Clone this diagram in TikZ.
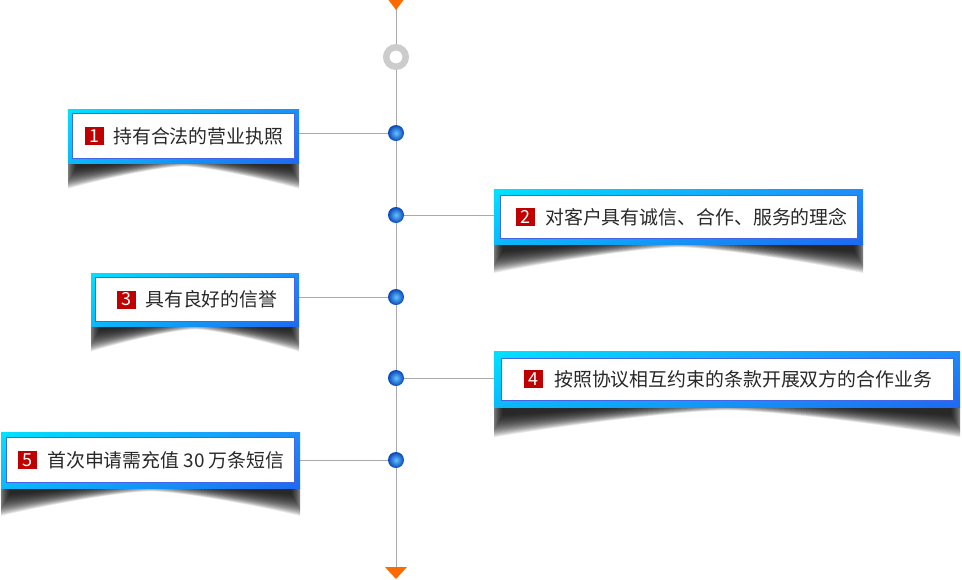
\documentclass[tikz,border=0pt]{standalone}
\usepackage{fontspec}
\setmainfont{Noto Sans CJK SC}
\usetikzlibrary{backgrounds,shadings}
\definecolor{linegray}{RGB}{170,170,170}
\definecolor{ringgray}{RGB}{204,204,204}
\definecolor{arrorange}{RGB}{255,106,0}
\definecolor{badgered}{RGB}{192,0,0}
\definecolor{txtgray}{RGB}{40,40,40}
\definecolor{bUL}{RGB}{0,226,255}
\definecolor{bUR}{RGB}{30,140,250}
\definecolor{bLL}{RGB}{10,185,250}
\definecolor{bLR}{RGB}{30,105,240}
\definecolor{innerblue}{RGB}{70,100,230}
\definecolor{dotin}{RGB}{100,195,255}
\definecolor{dotout}{RGB}{8,70,185}
% soft shadow: x0 x1 yb sidedepth
\newcommand\myshadow[4]{%
  \pgfmathsetmacro\sw{#2-#1}%
  \pgfmathsetmacro\sxm{(#1+#2)/2}%
  \begin{scope}
  \clip (#1,#3) rectangle (#2,#3+60);
  \foreach \r in {0,...,23}{%
    \pgfmathsetmacro\sL{#1+9-0.6*\r}%
    \pgfmathsetmacro\sR{#2-9+0.6*\r}%
    \pgfmathsetmacro\sT{#3-12}%
    \pgfmathsetmacro\sS{#3+#4+\r}%
    \pgfmathsetmacro\sC{#3-7+0.45*\r}%
    \pgfmathsetmacro\sQ{#3+0.35*#4+0.55*\r}%
    \fill[black, opacity=0.075]
      (\sL,\sT) -- (\sR,\sT) -- (\sR,\sS)
      .. controls ({\sR-0.2*\sw},\sQ) and ({\sxm+0.08*\sw},\sC) .. (\sxm,\sC)
      .. controls ({\sxm-0.08*\sw},\sC) and ({\sL+0.2*\sw},\sQ) .. (\sL,\sS) -- cycle;
  }%
  \end{scope}
}
\newcommand\myframe[4]{%
  \shade[upper left=bUL, upper right=bUR, lower left=bLL, lower right=bLR] (#1,#2) rectangle (#3,#4);
}
\begin{document}
\begin{tikzpicture}[x=1pt,y=-1pt,
  txt/.style={anchor=west, inner sep=0pt, text=txtgray, font=\fontsize{18.9}{20}\selectfont},
  badge/.style={fill=badgered, text=white, minimum width=19pt, minimum height=18pt, inner sep=0pt, font=\fontsize{18}{18}\selectfont},
  innerbox/.style={fill=white, draw=innerblue, line width=0.8pt, inner sep=0pt},
  dot/.style={circle, inner sep=0pt, minimum size=16pt, inner color=dotin, outer color=dotout},
  conn/.style={draw=linegray, line width=1pt},
]
\useasboundingbox (0,0) rectangle (962,579);

% shadows
\myshadow{68}{299}{163}{4}
\myshadow{494}{863}{244}{7}
\myshadow{91}{299}{326}{4}
\myshadow{494}{960}{407}{8}
\myshadow{1}{300}{488}{6}

% frames
\myframe{68}{109}{299}{163}
\myframe{494}{189}{863}{244}
\myframe{91}{273}{299}{326}
\myframe{494}{351}{960}{407}
\myframe{1}{432}{300}{488}

% inner boxes
\node[innerbox, minimum width=222pt, minimum height=45pt] (b1) at (183.5,136) {};
\node[innerbox, minimum width=357pt, minimum height=43pt] (b2) at (678.5,216.5) {};
\node[innerbox, minimum width=199pt, minimum height=44pt] (b3) at (195,299.5) {};
\node[innerbox, minimum width=452pt, minimum height=42pt] (b4) at (727,379) {};
\node[innerbox, minimum width=288pt, minimum height=45pt] (b5) at (150.5,460) {};

% badges
\node[badge] (n1) at (94.5,136) {1};
\node[badge] (n2) at (525.5,217) {2};
\node[badge] (n3) at (126.5,299.5) {3};
\node[badge] (n4) at (533.5,379) {4};
\node[badge] (n5) at (27,460) {5};

% texts
\node[txt] (t1) at (113,136) {持有合法的营业执照};
\node[txt] (t2) at (545,217) {对客户具有诚信、合作、服务的理念};
\node[txt] (t3) at (145,299.5) {具有良好的信誉};
\node[txt] (t4) at (554,379) {按照协议相互约束的条款开展双方的合作业务};
\node[txt] (t5) at (47,460) {首次申请需充值 30 万条短信};

% timeline marks
\fill[arrorange] (387,-2) -- (405,-2) -- (396,10) -- cycle;
\fill[arrorange] (385,567) -- (407,567) -- (396,579) -- cycle;
\coordinate (topc) at (396,0);
\coordinate (botc) at (396,570);
\node[circle, draw=ringgray, fill=white, line width=6.5pt, minimum size=19.5pt, inner sep=0pt] (ring) at (396,57) {};

\node[dot] (d1) at (396,133) {};
\node[dot] (d2) at (396,215) {};
\node[dot] (d3) at (396,297) {};
\node[dot] (d4) at (396,378) {};
\node[dot] (d5) at (396,460) {};

\begin{pgfonlayer}{background}
  \draw[conn] (topc) -- (botc);
  \draw[conn] (d1) -- (d1 -| b1.east);
  \draw[conn] (d2) -- (d2 -| b2.west);
  \draw[conn] (d3) -- (d3 -| b3.east);
  \draw[conn] (d4) -- (d4 -| b4.west);
  \draw[conn] (d5) -- (d5 -| b5.east);
\end{pgfonlayer}
\end{tikzpicture}
\end{document}
